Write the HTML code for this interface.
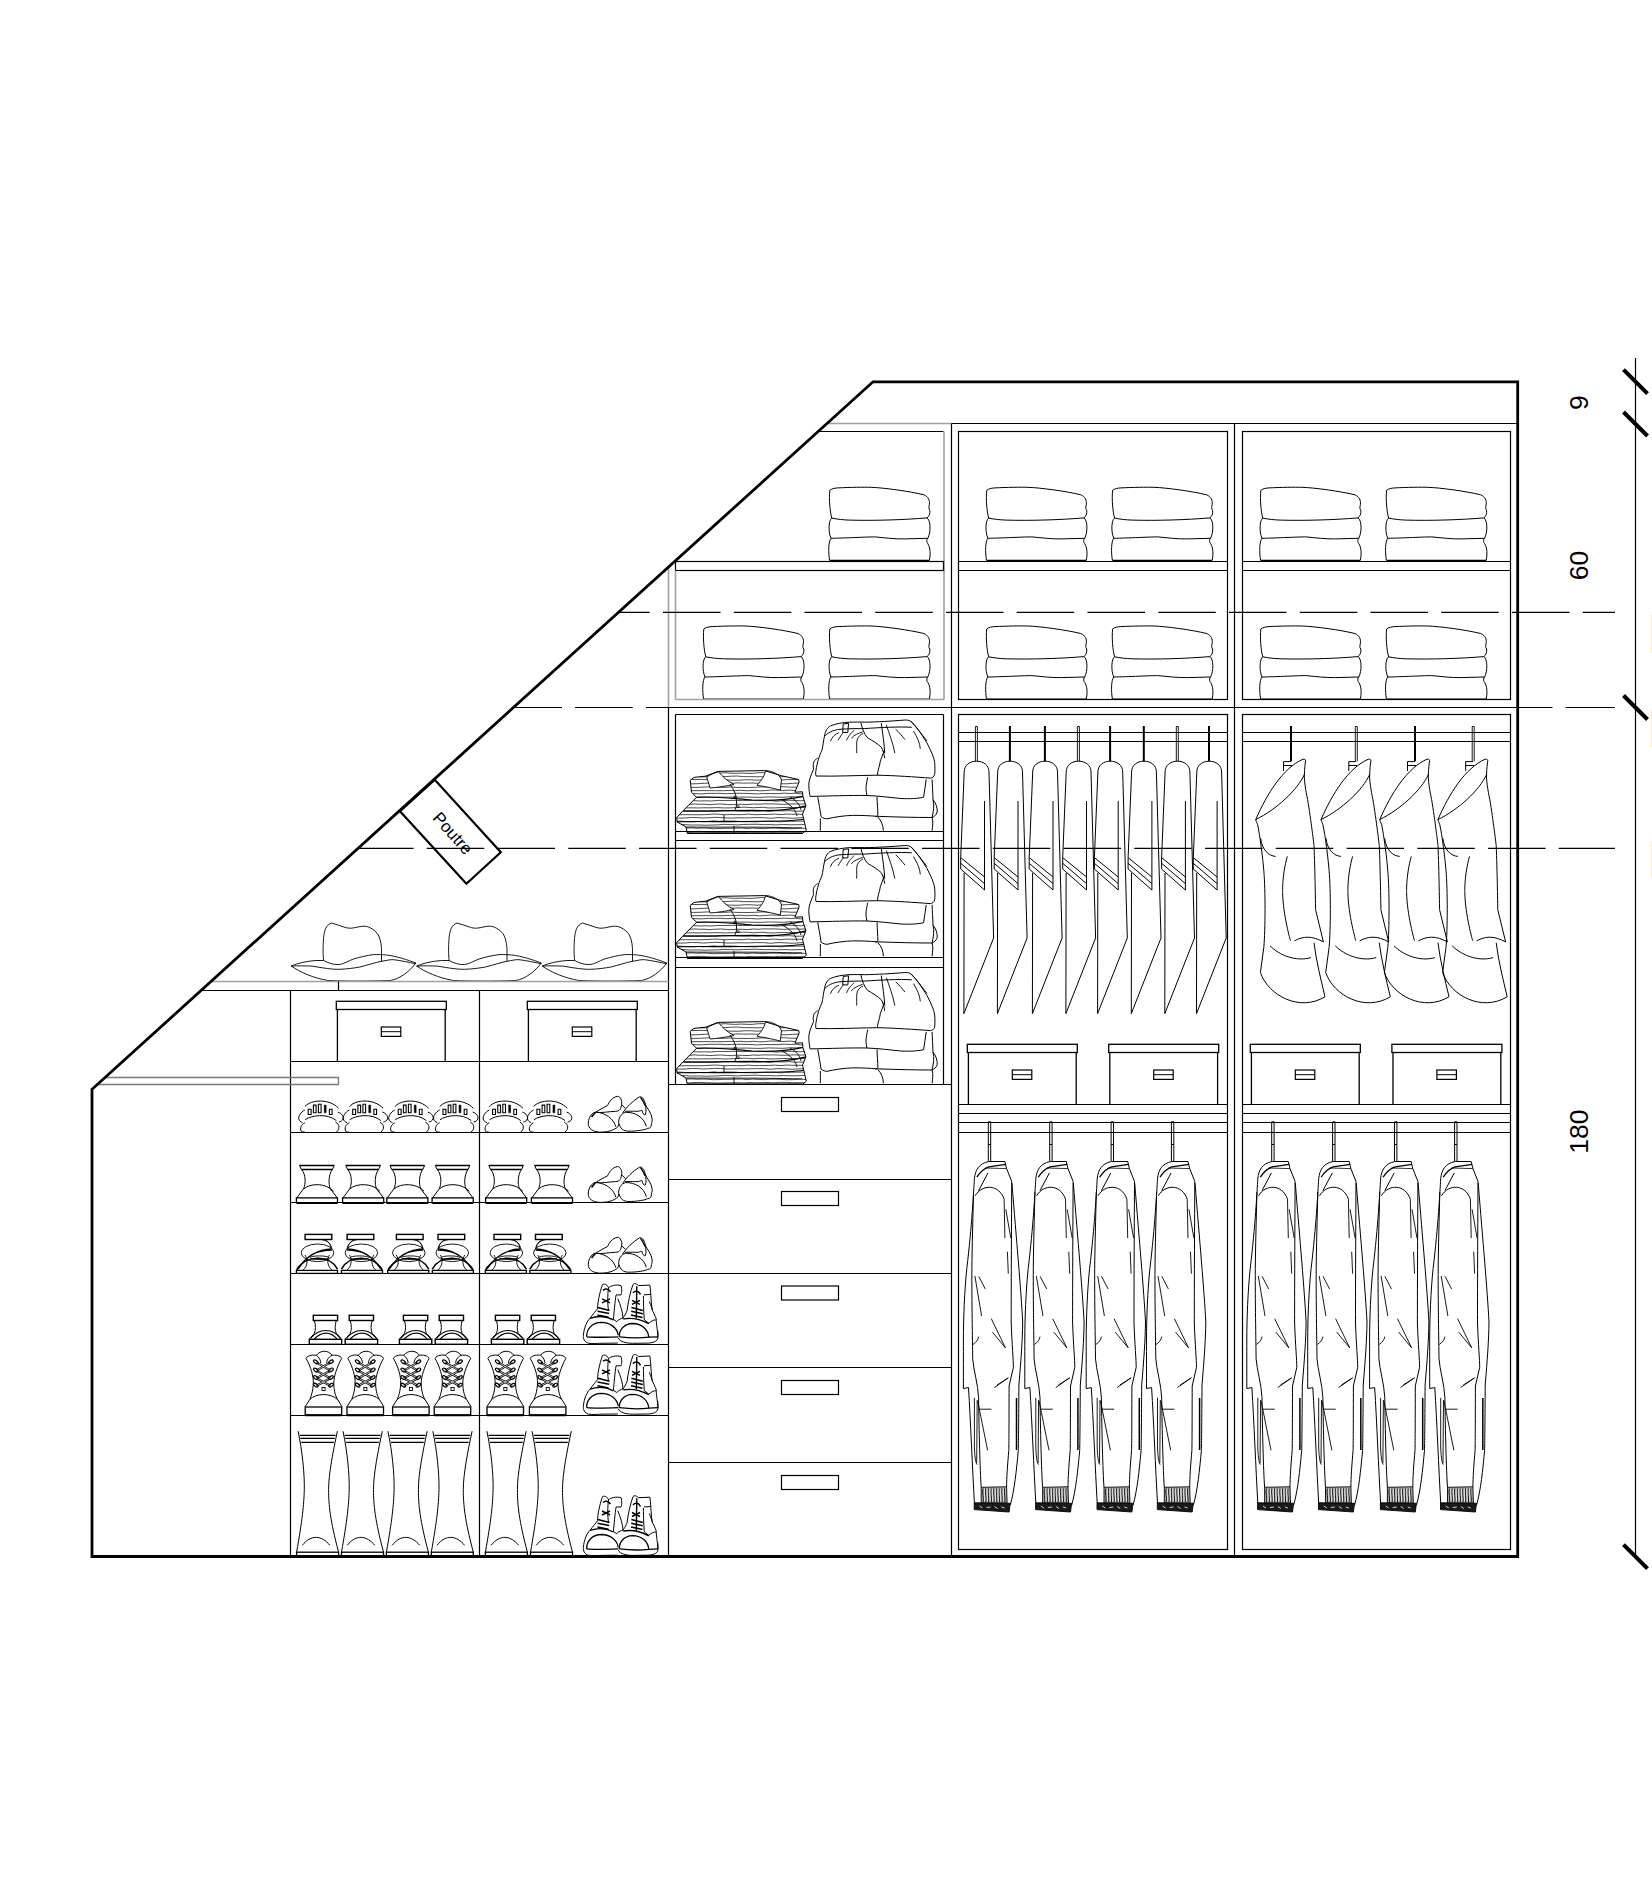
<!DOCTYPE html>
<html><head><meta charset="utf-8"><title>Dressing</title>
<style>html,body{margin:0;padding:0;background:#fff;}svg{display:block;}</style>
</head><body><svg width="1652" height="1881" viewBox="0 0 1652 1881"><defs><g id="towel" fill="none" stroke="#000" stroke-width="1"><path d="M2.4,30.8 C0.5,24 -0.5,12 0.4,3 C3,1 6,0.8 8.7,0.6 C20,0 35,-0.2 41.7,0 C55,0.5 80,4 94.5,7.5 C99,9.5 100.5,13 100,17 C99.5,20 99,21 100.4,23 C100.8,26 100,29 97.6,30.6"/><path d="M2.4,30.8 C8,32 14,32.6 20,32.8 C45,33.5 75,32.5 97.6,30.6"/><path d="M2.4,30.8 C-1,33 -1.2,45 1.6,51 M97.6,30.6 C101.5,33 101.5,45 98.4,51"/><path d="M1.6,51 C15,50.8 40,49.5 45.7,49.6 C55,50.5 65,51.8 75,51.6 L98.4,51"/><path d="M1.6,51 C-1,54 -1.2,65 0.2,73 M98.4,51 C97,52 97.5,54 97.6,55.3 C100,58 101.8,64 100,73"/><path d="M0.2,73.2 L100,73.2" stroke-width="1.6"/></g><g id="box" fill="none" stroke="#000" stroke-width="1"><rect x="0.5" y="0.5" width="110" height="8.2" stroke-width="1.3"/><path d="M1.6,8.7 L1.6,60.2 M109.4,8.7 L109.4,60.2" stroke-width="1.3"/><rect x="45.5" y="26.2" width="19.5" height="9.4" stroke-width="1.2"/><path d="M45.5,30.9 L65,30.9" stroke-width="1"/></g><g id="pants" fill="none" stroke="#000" stroke-width="1"><path d="M-12.2,772 C-12.2,765 -6.5,761.2 0.2,761.2 C6.8,761.2 12.6,765 12.6,772 L17.2,938"/><path d="M17.2,938 L-12.5,1013.6 L-12.3,873"/><path d="M-12.2,772 L-15.7,857.6 L-15.7,869"/><path d="M-15.7,857.6 L8.1,877 M-15.7,863.3 L8.1,883.6 M-15.7,869 L8.1,890 M8.1,801 L8.1,890"/></g><g id="hookS" fill="none" stroke="#000" stroke-width="1"><path d="M0,726 L0,761.2" stroke-width="2"/></g><g id="hookH" fill="none" stroke="#000" stroke-width="1"><path d="M-1,761.2 L-1,726.5 L1,726.5 L1,761.2" stroke-width="0.9"/></g><g id="shirt" fill="none" stroke="#000" stroke-width="1"><path d="M-7.5,771 L-7.5,761.6 L0,761.6 M-7.5,765.5 L1,765.5"/><path d="M12,759.2 C-8,768 -24,793.7 -35.3,819.6 C-34.5,822 -33.5,824.3 -33.5,824.3 C-31,835 -28,860 -27.2,870.6 C-25.5,890 -25.6,930 -27.2,947.4 L-30.6,972.5 C-22.5,996 8.9,1012 34,996.8 C30,980 25,960 23,942.7"/><path d="M-35.3,819.6 C-14.6,809.4 6,790.6 13.6,774.1"/><path d="M12,759.2 C14,758.8 15.2,760 14.4,762 C13.6,768 13.3,773 13.3,778 C14,788 16.7,800 16.7,800 C20,820 23,845.5 23,845.5 C24,870 24.6,909.8 24.6,909.8 L32.4,941.9"/><path d="M3.4,940.8 C8,938.5 12,937.2 16.7,937.2 C22,937.2 27,939 32.4,941.9"/><path d="M-3.7,856.4 C-9,875 -8.4,892.5 -8.4,892.5 C-8,915 -0.5,940.8 -0.5,940.8"/><path d="M-30.3,838.4 C-29,850 -22,856 -15.4,856.4"/><path d="M-21,945.8 C-12,955 5,962 19.9,957.6"/></g><g id="jacket" fill="none" stroke="#000" stroke-width="1"><path d="M-1.2,1161.4 L-1.2,1121.8 L1.2,1121.8 L1.2,1161.4 M-1.2,1144.5 L1.2,1144.5" stroke-width="1"/><path d="M-0.7,1161.5 L15.4,1161.5 L17.1,1168.6 L22.2,1181.4"/><path d="M-12.6,1177.1 C-9.2,1172 -5.8,1168.6 -0.7,1166.9 L16.3,1164.4" stroke-width="1.3"/><path d="M-4,1168 L17.1,1168.6" stroke-width="0.8"/><path d="M-1.5,1172.9 L-10.9,1190.7"/><path d="M-0.7,1161.5 C-10.9,1163.6 -14.3,1170.3 -15.1,1178.8 C-15.9,1192 -17.6,1226 -22.7,1268.6 C-25,1290 -26.1,1320 -26.1,1339 C-26.1,1355 -26.1,1375 -26.1,1388.5 L-21,1387.6 C-19,1420 -17,1470 -15.1,1503"/><path d="M-16,1192 C-16.5,1215 -17.5,1250 -17.6,1268.6 C-17.8,1300 -17,1340 -16.8,1358.8 C-16,1370 -11.5,1384 -10.9,1397.8 C-10.5,1430 -9.5,1470 -8.3,1487.5"/><path d="M-14.3,1195.8 C-7.5,1183.9 9.5,1183.9 14.6,1199.2"/><path d="M22.2,1181.4 C22,1220 21.7,1280 21.7,1323 C22.5,1345 23.9,1360 23.9,1367.3 L19.6,1386 C19.5,1420 19.5,1440 19.3,1450.3 C18,1465 17.1,1478 17.1,1487"/><path d="M22.4,1183 C27,1240 31.5,1290 33.2,1322 C33,1340 31.5,1360 29.4,1385 C29.2,1420 29,1440 28.8,1450.3 C27,1470 25,1490 20.8,1505"/><path d="M14.6,1199.2 L15.4,1238.1 M16.3,1209.3 L21.3,1238.1 M17.9,1251.7 L18.8,1273.7 M-14.6,1276 L-7.9,1316 M-10.8,1276.3 L-4.2,1289 M1.8,1318.7 L15.9,1347.8 M2.9,1332.1 L15.9,1347.8 M-16.5,1344.5 C-13,1342 -11.5,1340 -10.9,1336.6 M4.8,1387.6 L18.8,1377.8 M7.5,1385 L18.8,1377.8 M-10.9,1409.2 L1.9,1409.2 M-11.8,1401 L-1.9,1450.3 M-15.1,1397.8 L-15.1,1448 C-14.5,1460 -13.5,1463 -12.5,1464.6 M-12.3,1400 L-12.8,1463" stroke-width="0.9"/><path d="M27,1398 L27,1450" stroke-width="1.5"/><path d="M-8.3,1487.3 L17.1,1486.8 L17.6,1503 L-8.3,1503 Z" fill="#b0b0b0" stroke-width="0.9"/><path d="M-15.3,1502.8 L20.7,1503.3 L19.6,1512 L-15.3,1509.6 Z" fill="#1a1a1a" stroke-width="0.9"/><path d="M-10,1506 L-7,1508 M-3,1507.5 L1,1507 M5,1506.5 L8,1508.5 M12,1507 L15,1508" stroke="#fff" stroke-width="0.8"/><path d="M-6.5,1488.5 C-7.5,1493 -5.5,1498 -6.3,1502 M-3.8,1488.5 C-4.8,1493 -2.8,1498 -3.6,1502 M-1.1,1488.5 C-2.1,1493 -0.1,1498 -0.9,1502 M1.6,1488.5 C0.6,1493 2.6,1498 1.8,1502 M4.3,1488.5 C3.3,1493 5.3,1498 4.5,1502 M7,1488.5 C6,1493 8,1498 7.2,1502 M9.7,1488.5 C8.7,1493 10.7,1498 9.9,1502 M12.4,1488.5 C11.4,1493 13.4,1498 12.6,1502 M15.1,1488.5 C14.1,1493 16.1,1498 15.3,1502 " stroke="#000" stroke-width="0.9"/><path d="M-5,1489 L-4.8,1501.5 M-2.3,1489 L-2.1,1501.5 M0.4,1489 L0.6,1501.5 M3.1,1489 L3.3,1501.5 M5.8,1489 L6,1501.5 M8.5,1489 L8.7,1501.5 M11.2,1489 L11.4,1501.5 M13.9,1489 L14.1,1501.5 " stroke="#fff" stroke-width="0.7"/></g><g id="hat" fill="none" stroke="#000" stroke-width="0.9"><path d="M35.6,45.5 C35,40 34.8,33 35.6,22.4 C36.5,15 38,10 43.5,8 C48,9 52,11 55.9,12 C59,13 60,13.2 63.1,13.2 C68,12.8 72,11 76.7,11.2 C82,11.5 88,16 90.3,20 C93,25 93.5,32 93.5,35.2 L93.5,46.3"/><path d="M35.6,45.5 C40,48 46,50 51.1,49.5 C56,49 60,46 65.5,44 C72,42 79,40.5 85.5,39.6 C90,39.5 95,39.6 98.3,40 C108,41 120,45 127.8,48"/><path d="M3.2,51.1 C10,48 18,46.3 28,45.5 L35.6,45.5"/><path d="M3.2,51.1 C10,50.5 18,51 24,51.1 C35,53 45,54.5 51.1,54.3 C60,54 66,53 71.9,52 C80,50 87,47.5 93.5,46.3 C98,45.5 103,44.3 105.5,44.7 C113,45.5 121,47.5 127.8,48.7"/><path d="M3.2,51.1 C12,57 25,63 40,65.5 C55,66.2 80,66.4 102.3,65.5 C112,64 122,56 127.8,48"/></g><clipPath id="shclip"><path d="M18.2,20.3 L22,17.4 L33.9,16.1 L45.8,11.4 L92.4,10.6 L109.3,15.7 L126.7,19.5 L127.1,22 L122.9,32.2 L130.5,31.8 L130.9,36.4 L133.9,45.8 L130.5,54.2 L131.8,59.3 L134.3,70.3 L130.5,73.3 L15.3,73.3 L14,67 L5.1,61.9 L4.7,57.6 L11,50.8 L24.6,37.3 L19.5,32.2 Z"/></clipPath><g id="fshirts" fill="none" stroke="#000" stroke-width="1"><path d="M18.2,20.3 L22,17.4 L33.9,16.1 L45.8,11.4 L92.4,10.6 L109.3,15.7 L126.7,19.5 L127.1,22 L122.9,32.2 L130.5,31.8 L130.9,36.4 L133.9,45.8 L130.5,54.2 L131.8,59.3 L134.3,70.3 L130.5,73.3 L15.3,73.3 L14,67 L5.1,61.9 L4.7,57.6 L11,50.8 L24.6,37.3 L19.5,32.2 Z" fill="#fff" stroke="none"/><g clip-path="url(#shclip)"><path d="M0,13 Q5.47,12.37 10.94,13.12 Q15.66,13.06 20.38,12.89 Q25.05,13.01 29.73,12.63 Q35.53,12.23 41.33,12.67 Q47.1,13.59 52.87,12.7 Q58.04,13.23 63.21,13.36 Q69.45,12.81 75.68,13.38 Q80.32,13.65 84.96,12.83 Q89.89,12.31 94.82,12.85 Q101.77,12.43 108.72,13.07 Q115.14,12.77 121.55,13.04 Q126.24,12.21 130.93,12.76 Q137.47,12.87 144.01,12.85 M0,16.49 Q5.86,16.13 11.72,16.73 Q18.32,16.03 24.91,16.55 Q30.99,17.17 37.06,16.68 Q42.43,17.36 47.79,16.19 Q53.55,16.96 59.3,16.21 Q65.27,15.66 71.23,16.63 Q78.03,16.62 84.82,16.79 Q90.26,16.84 95.7,16.57 Q101.94,16.41 108.18,16.76 Q115.52,16.45 122.85,16.62 Q127.53,16.86 132.22,16.61 Q139.7,17.07 147.17,16.32 M0,19.89 Q6.51,19.03 13.01,19.86 Q18.02,19.2 23.02,19.53 Q29.82,19.22 36.63,19.68 Q42.3,20.55 47.98,19.55 Q53.82,19.97 59.67,20.19 Q66.63,20.54 73.59,19.71 Q79.33,19.63 85.08,20.19 Q92.45,19.26 99.82,19.63 Q105.02,19.41 110.22,19.87 Q116.48,19.46 122.75,19.49 Q128.51,19.65 134.26,19.94 Q141.62,20.23 148.98,19.9 M0,23.39 Q6.53,22.59 13.06,23.71 Q19.9,24.07 26.74,23.63 Q32.41,23.21 38.09,23.08 Q44.49,22.61 50.9,23.05 Q56.02,22.79 61.15,23.27 Q65.81,22.49 70.47,23.12 Q75.27,23.15 80.07,23.01 Q87.2,23.6 94.32,23.11 Q99.58,23.12 104.83,23.29 Q109.7,24.02 114.57,23.79 Q120.47,23.37 126.37,23.06 Q131.17,23.11 135.98,23.21 Q142.97,22.79 149.95,23.01 M0,27.07 Q6.08,26.43 12.17,27.1 Q16.75,27.12 21.33,27.45 Q28.42,27.42 35.51,26.88 Q41.11,26.47 46.71,27.29 Q52.81,27.57 58.91,26.93 Q64.08,27.63 69.25,27.46 Q76.3,27.62 83.36,27.32 Q90.08,26.58 96.8,27.08 Q102.37,26.22 107.93,26.69 Q113.27,26.64 118.61,27.22 Q125.98,26.97 133.35,27.42 Q140.81,27.89 148.28,26.96 M0,30.38 Q5.18,29.83 10.36,30.14 Q16.73,31.1 23.11,30.65 Q29.04,30.66 34.98,30.62 Q39.74,30.67 44.49,30.71 Q51.34,30.83 58.18,30.36 Q63.22,30.9 68.26,30.25 Q75.16,31.23 82.06,30.3 Q87.77,31.18 93.47,30.56 Q98.48,29.71 103.49,30.1 Q110.7,30.93 117.92,30.1 Q124.9,31.24 131.88,30.51 Q137.43,30.47 142.98,30.08 M0,33.59 Q7.41,33.86 14.83,33.61 Q22.13,33.47 29.43,33.88 Q36.41,33.07 43.38,33.39 Q48.76,33.12 54.14,33.66 Q59.42,33.44 64.7,33.29 Q71.93,33.32 79.16,33.55 Q85.41,34.32 91.66,33.52 Q98.91,33.59 106.16,33.61 Q112.24,32.72 118.31,33.54 Q123.35,32.69 128.4,33.83 Q133.42,33.54 138.44,33.77 Q144.61,33.27 150.78,33.6 M0,37.07 Q6.85,36.36 13.71,37.11 Q18.95,36.66 24.2,37.28 Q30.22,37.18 36.24,37.27 Q43.48,36.96 50.72,37.16 Q56.73,37.09 62.75,37.22 Q68.61,37.12 74.47,37.05 Q81.79,37.42 89.11,37.37 Q96.44,36.63 103.77,37.11 Q111.1,37.68 118.43,36.77 Q123.29,36.96 128.16,36.72 Q133.38,36.3 138.6,37.2 Q145.45,37.78 152.3,36.79 M0,40.62 Q6.48,39.98 12.96,40.93 Q20.36,40.12 27.77,40.99 Q33.46,40.6 39.16,41.01 Q46.15,40.01 53.15,40.57 Q59.2,40.33 65.24,40.38 Q70.7,41.02 76.16,40.24 Q82.32,40.52 88.48,40.24 Q93.97,40.85 99.47,40.63 Q104.16,41.5 108.85,40.85 Q116.27,39.91 123.69,40.44 Q128.3,41.13 132.92,40.44 Q137.81,40.48 142.7,40.95 M0,44.23 Q5.28,43.6 10.55,44.57 Q16.76,44.59 22.98,43.9 Q27.65,44.57 32.32,44.17 Q37.04,45.02 41.75,44.34 Q48.66,43.48 55.56,44.52 Q60.26,44.89 64.96,44.2 Q70.48,44.33 76,44.57 Q81.3,43.57 86.61,44.25 Q91.82,43.53 97.04,43.96 Q101.69,43.7 106.34,44.08 Q111.75,44.7 117.17,44.06 Q123.17,43.65 129.17,44.11 Q133.72,43.78 138.28,43.84 Q144.98,44.32 151.68,43.98 M0,47.67 Q7.3,46.96 14.61,47.93 Q20.4,47.66 26.2,47.94 Q31.88,47.68 37.56,47.82 Q45.01,47.39 52.45,47.94 Q59.07,47.91 65.69,47.59 Q71.24,46.87 76.78,47.37 Q81.49,48.1 86.2,47.47 Q91.19,46.92 96.18,47.94 Q103.3,47.98 110.41,47.5 Q115.63,47.3 120.86,47.64 Q125.83,47.57 130.81,47.48 Q138.19,48.52 145.58,47.71 M0,50.99 Q7.4,50.65 14.79,50.88 Q19.3,50.78 23.8,50.97 Q29.81,50.45 35.82,51 Q40.33,50.57 44.85,50.66 Q50.55,50.17 56.24,50.61 Q61.66,50.51 67.07,51.06 Q73.16,51.44 79.24,51.12 Q85.89,51.67 92.54,50.9 Q98.02,51.86 103.5,50.71 Q110.17,51.25 116.84,50.63 Q123.85,51.7 130.85,51.09 Q137.56,51.55 144.26,50.7 M0,54.45 Q6.01,55.06 12.03,54.7 Q19.01,54.61 25.98,54.77 Q32.53,54.8 39.08,54.24 Q43.68,53.79 48.27,54.34 Q53.08,55.06 57.9,54.5 Q64.28,54.68 70.67,54.6 Q76.63,53.56 82.6,54.69 Q89.35,54.46 96.09,54.48 Q102.57,53.67 109.05,54.64 Q114.3,53.69 119.56,54.27 Q126.25,53.92 132.94,54.65 Q140.36,54.44 147.79,54.36 M0,57.89 Q6.55,58.37 13.1,57.99 Q19.53,57.13 25.96,57.61 Q31.22,58.33 36.48,57.74 Q42.69,57.02 48.89,57.54 Q54.2,58.2 59.5,58.05 Q66.03,57.52 72.56,57.91 Q78.45,57.83 84.34,57.59 Q91.52,57.35 98.71,58.28 Q106.01,57.03 113.32,57.86 Q120.28,58.74 127.24,57.85 Q132.55,57.37 137.85,58.25 Q142.99,58.04 148.12,57.61 M0,61.36 Q7.36,60.69 14.72,61.61 Q20.74,62.05 26.77,61.52 Q31.96,62.07 37.16,61.34 Q41.73,60.46 46.31,61.35 Q52.16,61 58.01,61.07 Q63.54,61.02 69.07,61.63 Q73.58,61.81 78.08,61.63 Q82.95,62.12 87.81,61.53 Q95.01,60.98 102.21,61.25 Q107.89,62.25 113.57,61.43 Q119.15,61.23 124.74,61.18 Q129.38,60.64 134.03,61.62 Q139.38,62.14 144.74,61.16 M0,64.69 Q6.03,64.13 12.07,64.59 Q19.43,65.38 26.8,64.94 Q33.2,65.43 39.59,65.04 Q45.74,65.08 51.88,64.33 Q58.58,64.6 65.28,64.89 Q71.71,64.3 78.14,64.33 Q85.42,64.02 92.71,64.67 Q98.24,64.32 103.77,64.88 Q111.2,64.26 118.62,64.81 Q124.03,64.79 129.43,64.6 Q134.43,64.08 139.43,64.45 Q146.65,64.68 153.87,64.46 M0,68.34 Q7.49,68.25 14.98,68.05 Q20.06,67.6 25.13,68.22 Q29.91,67.87 34.68,68.15 Q40.89,69.04 47.1,68.54 Q52.84,68.19 58.57,68.36 Q64.2,68.05 69.84,67.99 Q75.17,69.18 80.5,68.04 Q86.51,68.57 92.52,68.63 Q97.67,67.93 102.82,68.14 Q108.52,68.24 114.22,68.7 Q121.26,69.01 128.31,67.96 Q132.9,68.72 137.5,68.66 Q143.42,68.5 149.34,67.94 M0,71.74 Q7.28,72.32 14.56,72.02 Q21.98,71.28 29.39,71.42 Q34.36,71.78 39.32,71.88 Q46.65,72.14 53.97,71.86 Q60.76,71.66 67.56,71.78 Q72.18,72.25 76.8,71.52 Q84.06,72 91.32,71.58 Q96.2,71.29 101.08,71.85 Q107.68,71.04 114.27,71.39 Q120.35,71.89 126.42,71.65 Q131.59,71.92 136.76,71.35 Q142.17,71.67 147.57,72.1" stroke-width="0.75" stroke="#111"/></g><path d="M34.7,16.9 C38,15 43,12.5 46.6,11.8 C50,16 55,21 62,24.5 C55,26 45,27.5 38.1,28 Z" fill="#fff" stroke-width="0.9"/><path d="M93.4,10.5 C100,11 108,14 109.5,20 L108.3,30 C104,29 100,28 95,27 L85,25.3 C90,20 93,15 93.4,10.5 Z" fill="#fff" stroke-width="0.9"/><path d="M18.2,20.3 L22,17.4 L33.9,16.1 L45.8,11.4 L92.4,10.6 L109.3,15.7 L126.7,19.5 L127.1,22 L122.9,32.2 L130.5,31.8 L130.9,36.4 L133.9,45.8 L130.5,54.2 L131.8,59.3 L134.3,70.3 L130.5,73.3 L15.3,73.3 L14,67 L5.1,61.9 L4.7,57.6 L11,50.8 L24.6,37.3 L19.5,32.2 Z" stroke-width="1"/><path d="M24.6,37.3 C40,36 60,38.5 80,40 C100,41 115,40 130.9,36.4" stroke-width="1.2"/><path d="M11,50.8 C30,52 60,50 90,50.5 C105,50.8 118,50 133.9,45.8" stroke-width="1.2"/><path d="M5.1,61.9 C25,61 50,62 70,61.5 C95,61 115,62 131.8,59.3" stroke-width="1.1"/><path d="M14,67 C40,67.5 80,66.5 130,68" stroke-width="0.9"/><path d="M15.3,73.3 L130.5,73.3" stroke-width="1.4"/><path d="M58,24 C62,30 65,36 64.5,42 C65,46 63.5,49 62.5,50.5 M52,55 L52,62 M62,66 L62,73" stroke-width="0.9"/><ellipse cx="66" cy="46.6" rx="1.3" ry="0.9" stroke-width="0.8"/><ellipse cx="63" cy="37" rx="1.3" ry="0.9" stroke-width="0.8"/><path d="M110,40 C118,44 124,50 125,56 M118,37 C124,40 128,45 129,50" stroke-width="0.9"/></g><g id="fpants" fill="none" stroke="#000" stroke-width="1"><path d="M19.5,21.2 C20,16 23,12 25.4,11 C31,8.5 38,7.5 44.1,7.2 C50,7 55,7 59.3,7.2 C72,7 88,6 99.2,5.1 C102,4.8 104,5.2 105.9,6.4 C112,12 117,20 122,28 C126,36 129,42 129.7,47.5 C130,52 130,56 129.7,59.3 C129,62 127,63 125.4,63.1 C110,62 90,60.5 72,60.2 C50,60.5 30,61.5 11,61 C10.5,59 10.6,57 11,55.1 C12,48 14.5,40 16.9,35.6 C18,31 18.5,25 19.5,21.2 Z"/><path d="M19.5,21.2 C25,16 30,15 33.9,14.4 C45,13.5 52,13.6 59.3,13.6 C75,12.5 95,11.5 106.8,12.3"/><path d="M37.7,17.4 L38.2,8.9 L43.6,8.4 L42.8,17.4 Z"/><path d="M55.9,7.6 C57,13 59,19 62.7,22.9 C68,26 73,29 76.3,32.2 C78,35 79,39 79.7,43.2"/><path d="M76.3,8.1 C77.5,18 79.5,30 79.7,38.1"/><path d="M25.4,26.3 C27,22 30,19 33.9,17.8 M33,25.4 C35,22 37,19 38.5,17 M41.5,25.4 C44,20 47,17 49.2,15.3 M46.2,23.3 C49,20 54,18 57.6,16.9 M51.7,38.1 C52,33 51,27 52.5,23.7 C54,21 56,19 58,18.6 M81.4,10.2 C84,18 88,28 89.8,38.1 M90.7,14.4 C94,17 97,21 100,24.6 M108.5,16.1 C112,22 115,28 115.3,33.9 M106,6.2 C111,12 116,18 122,26" stroke-width="0.9"/><path d="M79.7,33.9 C78,40 75,45 74.6,50 C73.5,54 72.5,57 72.5,60.2"/><path d="M12.7,43.2 C9,45 7.6,47.5 8.5,54.2 C6,60 3.5,66 3.8,70.3 C4,75 4.5,79 5.1,81.4 C25,81 45,80.2 61.9,80.5 C75,81 85,82.5 95.8,83.5 C105,84 113,83.5 118.6,82.2 C119.5,76 120.5,70 121.2,64.4"/><path d="M62.7,62.3 C62,66 61,70 61,73.7 C61,76 61.5,78.5 61.9,80.5"/><path d="M12.7,81.8 C14,88 15,95 16.1,101.7 C18,103 20,103.8 22,103.8 C30,102 40,100.5 47.5,100.4 C56,100.2 65,100.8 72,101.3 C90,102 110,102.5 127.1,102.5 C128.5,96 129.5,90 128,84.7 C127.8,78 127.3,70 127.1,64.4"/><path d="M128,84.7 C131,88 132.5,93 132.2,97 C131.5,100 129,101.5 127.1,102.5"/><path d="M72,81.8 C72.2,88 72.8,95 72.9,100 C72.5,101 71,101.8 70,101.5"/><path d="M15.3,103.4 C15.5,108 15.3,112 15.3,115.7 M72.9,102.1 C76.5,106 78,110 78.4,115.7 M127.1,102.5 C128.5,107 127.5,111 127.1,115.7"/></g><g id="sneakerF" fill="none" stroke="#000" stroke-width="1"><path d="M-16.3,-25.8 C-10,-33 8,-34 17.3,-24.2"/><path d="M-16.3,-22.4 C-20.5,-20.5 -23,-16 -22.4,-13.4 C-22,-11.5 -20.5,-10.5 -18.7,-9.7"/><path d="M16.7,-20.3 C21,-19 22.5,-15.5 21.8,-13.4 C21.3,-11.8 19.5,-10.8 17.6,-10.3"/><path d="M-16,-12.7 C-10,-17 6,-19.5 15.2,-11.8"/><path d="M-16.3,-9.7 C-20,-8 -21.5,-4 -20,-1.2 C-19.3,-0.5 -17.5,-0.3 -16.3,-0.3"/><path d="M14.3,-10.3 C18.5,-8 19,-3.5 15.2,-0.4"/><path d="M-13,-23.2 h2.9 v5.3 h-2.9 Z M-7.8,-27.3 h2.7 v7.6 h-2.7 Z M-2.8,-28.2 h2.7 v8.5 h-2.7 Z M8.2,-23.2 h2.7 v5.3 h-2.7 Z" stroke-width="1.1"/><path d="M3.1,-27.3 h1.8 v7.6 h-1.8 Z" fill="#000" stroke-width="0.6"/></g><g id="heelF" fill="none" stroke="#000" stroke-width="1"><path d="M-17.3,-37.3 L17.3,-37.3 M-15.6,-33.3 L15.6,-33.3" stroke-width="1.5"/><path d="M-17.3,-37.3 L-15.6,-33.3 M17.3,-37.3 L15.6,-33.3"/><path d="M-15.3,-33.3 C-11,-28 -11,-19 -13.3,-14 L-20.2,-4.6 M15.3,-33.3 C11.5,-27 11.5,-19 13.3,-14 L20.6,-4.6"/><path d="M-13.3,-13.7 C-6.9,-19.8 9.4,-19.8 16.7,-11.5"/><rect x="-20.5" y="-4.8" width="41.1" height="4.8" stroke-width="1.3"/><path d="M-20.5,0.2 L20.6,0.2" stroke-width="2"/></g><g id="sandal" fill="none" stroke="#000" stroke-width="1"><rect x="-11.8" y="-39" width="26.7" height="5.1" stroke-width="1.4"/><rect x="-20.5" y="-3" width="41.1" height="3" stroke-width="1.3"/><ellipse cx="0.6" cy="-20.6" rx="16.3" ry="8.8" stroke-width="0.9"/><path d="M-20.2,-3.6 C-11.8,-18.1 12.4,-19.4 20.6,-4.2" stroke-width="1.5"/><path d="M-19.8,-3.6 C-8.6,-20.5 3.6,-24.3 14.9,-24.5 M-18.3,-5 C-7.6,-21.5 4,-23 14.9,-23.3" stroke-width="1.1"/><path d="M5.2,-33.6 C11.9,-32.7 14.3,-28.4 14.9,-24.5 M7.6,-33.6 C12,-32 13.5,-29 14.2,-25" stroke-width="0.9"/><path d="M-14.2,-3 C-9,-7 -9,-14 -11.9,-18.4 M15.5,-3 C10,-7 10,-14 12.5,-18.4" stroke-width="0.9"/><ellipse cx="2.5" cy="-15.7" rx="9.4" ry="1.8" stroke-width="0.9"/></g><g id="ankleB" fill="none" stroke="#000" stroke-width="1"><rect x="-12.2" y="-29" width="24.3" height="5.2" stroke-width="1.4"/><rect x="-16.2" y="-5" width="32.4" height="5" stroke-width="1.4"/><path d="M-11.1,-23.5 C-9.7,-18.6 -9.7,-14.8 -11.1,-11 L-16,-5.3 M10.7,-23.5 C9.3,-18.6 9.3,-14.8 10.7,-11 L15.6,-5.3"/><path d="M-14.9,-6.1 C-6.4,-16.4 7.1,-16.4 15.1,-5.9 M-11.3,-5.3 C-3.7,-13.2 5,-13.2 11.6,-5.3" stroke-width="1.1"/></g><g id="laceB" fill="none" stroke="#000" stroke-width="1"><path d="M-17.4,-57 C-15.2,-60.5 -9.7,-60.5 -7.1,-60 C-2.7,-65.4 4.9,-65.4 8.7,-60 C12,-60.5 16.9,-60 18.3,-57"/><path d="M-17.4,-57 C-12.5,-48.5 -9.8,-38.7 -10.1,-32.2 C-10.3,-24 -12.5,-18.6 -13.6,-15.8 L-18.2,-8.8"/><path d="M18.3,-57 C13.6,-48.5 10.4,-38.7 10.4,-32.2 C10.4,-24 12.5,-18.6 14.2,-15.8 L18.5,-8.8"/><rect x="-18.2" y="-8.3" width="36.5" height="8" stroke-width="1.3"/><path d="M-18.2,0 L18.3,0" stroke-width="2"/><path d="M-13.6,-15.8 C-7.1,-22.4 7.1,-22.4 14.2,-15.8"/><path d="M-7.1,-60 C-3.8,-57.8 -2.7,-54.5 -2.7,-52.3 M8.7,-60 C4.4,-57.8 3.3,-54.5 3.3,-52.3"/><path d="M-7,-52.9 L7,-44.7 M7,-52.9 L-7,-44.7 M-7,-44.7 L7,-37.1 M7,-44.7 L-7,-37.1 M-7,-37.1 L7,-29.5 M7,-37.1 L-7,-29.5 " stroke-width="2.2"/><path d="M-7,-52.9 L7,-44.7 M7,-52.9 L-7,-44.7 M-7,-44.7 L7,-37.1 M7,-44.7 L-7,-37.1 M-7,-37.1 L7,-29.5 M7,-37.1 L-7,-29.5 " stroke="#fff" stroke-width="0.7"/><rect x="-1.4" y="-27.8" width="3.1" height="3" stroke-width="0.9"/><ellipse cx="0" cy="0" rx="2.6" ry="1.4" stroke-width="1.2" transform="translate(-7.6,-53.5) rotate(35)"/><ellipse cx="0" cy="0" rx="2.6" ry="1.4" stroke-width="1.2" transform="translate(7.6,-53.5) rotate(-35)"/><ellipse cx="0" cy="0" rx="2.6" ry="1.4" stroke-width="1.2" transform="translate(-7.6,-45.3) rotate(35)"/><ellipse cx="0" cy="0" rx="2.6" ry="1.4" stroke-width="1.2" transform="translate(7.6,-45.3) rotate(-35)"/><ellipse cx="0" cy="0" rx="2.6" ry="1.4" stroke-width="1.2" transform="translate(-7.6,-37.7) rotate(35)"/><ellipse cx="0" cy="0" rx="2.6" ry="1.4" stroke-width="1.2" transform="translate(7.6,-37.7) rotate(-35)"/><ellipse cx="0" cy="0" rx="2.6" ry="1.4" stroke-width="1.2" transform="translate(-7.6,-30.1) rotate(35)"/><ellipse cx="0" cy="0" rx="2.6" ry="1.4" stroke-width="1.2" transform="translate(7.6,-30.1) rotate(-35)"/></g><g id="tallB" fill="none" stroke="#000" stroke-width="1"><rect x="-21" y="-4.3" width="42" height="4.3" stroke-width="1.3"/><path d="M-17.8,-121.1 L18,-121.1 M-17.2,-118.2 L17.2,-118.2 M-16.3,-114.1 L16.3,-114.1" stroke-width="1.2"/><path d="M-19.5,-125.3 C-15.3,-105.7 -13,-82.6 -13.3,-67.1 C-13.7,-51.7 -15.3,-36.3 -21,-4.3"/><path d="M19.8,-125.3 C15.6,-105.7 11,-82.6 11,-67.1 C11,-51.7 12.5,-36.3 21,-4.3"/><path d="M-15.3,-11.2 C-6.4,-22.5 4.3,-21 12.3,-11.2"/></g><g id="flats" fill="none" stroke="#000" stroke-width="1"><path d="M8.2,-8.5 C8.2,-13 10,-17.5 13.6,-19.6 C17,-21 19,-20 21.3,-19.2 C28,-17.5 34,-12.4 35.8,-5.6"/><path d="M8.2,-8.5 C8.7,-4 12,-0.8 19.4,-0.3 C27,0 34,-2 37.8,-5.6 C38.5,-7 38.7,-8 38.7,-9"/><path d="M15.5,-20.1 C20,-23 24,-25 27.6,-26.9 C29,-30 32,-35.5 37.8,-36.1 C40,-36 42.5,-32 41.6,-27.9 C41,-24 40,-21.1 35.4,-21.1 C29,-20.8 22,-19.5 16.5,-19.9"/><path d="M11.6,-15.3 L15.5,-20.1" stroke-width="1.6"/><path d="M38.7,-9 C38.2,-14 41,-19 45.5,-20.1 C55,-20.5 64,-15 66.3,-6.1"/><path d="M39.2,-8.7 C40,-4 43.5,-1.2 48.4,-1.2 C57,-1.2 65,-2.5 67.8,-4.1 C70.5,-4 71.5,-6 71.4,-8.5"/><path d="M42.6,-19.2 C46,-25 53,-31.5 59.6,-35.6 C63,-36 64.5,-32 65.4,-27.9 C67,-24 71.5,-20 72.2,-13.3 C72.3,-11 71.4,-8.5 71.4,-8.5"/><path d="M45,-21.1 C50,-21.3 56,-21 58.1,-21.1 C60,-21.6 61,-22 62,-22.1 C62.5,-19 63.8,-17.2 65.4,-17.7 C66.5,-21 66,-26 64.9,-28.8"/><path d="M41.6,-27.9 L45.5,-24"/><path d="M60.5,-35 C62,-33 64,-30 65,-27" stroke-width="1.4"/></g><g id="sneakP" fill="none" stroke="#000" stroke-width="1"><path d="M5.4,-9.2 C4.9,-6 6.5,-2 10.9,-1.1 C15,-0.6 19,-0.8 21.8,-1.1 L39.8,-1.3"/><path d="M8.7,-7.6 C16,-6.8 30,-7.2 40.3,-7.6" stroke-width="1.3"/><path d="M8.7,-7.6 C8.2,-14.5 13.5,-21.8 23.4,-22 C32.5,-21.8 39,-16.5 40.3,-9.2" stroke-width="1.3"/><path d="M5.4,-9.2 C6,-17 9.2,-23.5 12,-26.1 C15,-30.5 18.5,-34 19.6,-35.9 C19.6,-44.5 23,-55.5 24.5,-59.9 C27,-61 29.5,-59.5 30.5,-56.6 C32.7,-58.7 38,-60.2 43,-58.8 C44.2,-55.5 43.6,-50 43,-49.5 L38.1,-49.5 C37,-43.5 36,-31 35.4,-25 L38.7,-22.8 C40.8,-25 43.6,-26 44.7,-26.6"/><path d="M12,-26.1 C21.8,-29.5 30,-27.3 35.4,-24.5" stroke-width="1.3"/><path d="M30.5,-56.6 C29.5,-50 29.5,-39 30.5,-34.5"/><path d="M39.8,-45.7 C42.5,-39 44.6,-33.5 45.2,-25"/><path d="M19.8,-37 L31.5,-34 M19.6,-33.2 L31.2,-31 M19.4,-29.5 L30.5,-27.2 M25,-54 C27,-56 30,-56 32.5,-52.5 M24,-45.5 L32,-41.5 M32,-45.5 L24,-41.5" stroke-width="1.5"/><path d="M40.3,-6.5 C41.5,-2.5 49,-1.1 54.5,-1.1 L70.8,-1.3 C77.5,-2.1 80,-4 80,-7.6 C80,-10 79.8,-13 79.8,-14"/><path d="M41.4,-7.6 C50,-6.5 65,-6.5 71,-7.2 L80,-7.6" stroke-width="1.3"/><path d="M41.4,-7.6 C40.8,-14.5 46.3,-20.7 54.5,-20.9 C64.3,-20.7 70.3,-14.5 70.8,-7" stroke-width="1.3"/><path d="M80,-7.6 C79.5,-14.8 77.8,-23 78.4,-25 C77,-29 75,-33 74,-34.8 C73,-44.5 72.5,-55.5 71.9,-59.3 L60.5,-58.8 C58.8,-60.5 56.6,-61.6 55,-59.9 C52.3,-52.8 50.1,-41.9 49,-33.7 C46.8,-28.2 45.2,-27.1 44.7,-26"/><path d="M65.9,-49.5 L72.5,-50 M65.4,-48.5 C65.4,-39.2 65.9,-28.2 66.4,-24.5 L70.8,-21.2 C73,-22.8 75.2,-25 78.4,-24.5"/><path d="M45.7,-25.5 C54.5,-27.1 62.6,-25 70.8,-20.7" stroke-width="1.3"/><path d="M58.8,-58.2 L58.3,-26.1" stroke-width="1.4"/><path d="M71.3,-43 C73,-38.5 74,-36 74.5,-34.5"/><path d="M53.4,-37 L64.8,-34 M53.2,-33.2 L64.8,-30.7 M53,-29.5 L64.5,-27 M55,-51.5 C57,-54 60.5,-54 62.5,-50 M54,-44 L62,-40 M62,-44 L54,-40" stroke-width="1.5"/></g></defs><rect width="100%" height="100%" fill="#fff"/><use href="#towel" transform="translate(829.4,487.3)"/><use href="#towel" transform="translate(986.3,487.3)"/><use href="#towel" transform="translate(1112.2,487.3)"/><use href="#towel" transform="translate(1260.4,487.3)"/><use href="#towel" transform="translate(1386.2,487.3)"/><use href="#towel" transform="translate(703.4,626)"/><use href="#towel" transform="translate(829.4,626)"/><use href="#towel" transform="translate(986.3,626)"/><use href="#towel" transform="translate(1112.2,626)"/><use href="#towel" transform="translate(1260.4,626)"/><use href="#towel" transform="translate(1386.2,626)"/><use href="#box" transform="translate(966.8,1043.8)"/><use href="#box" transform="translate(1108.2,1043.8)"/><use href="#box" transform="translate(1249.8,1043.8)"/><use href="#box" transform="translate(1391.4,1043.8)"/><use href="#box" transform="translate(335.8,1000.8)"/><use href="#box" transform="translate(526.8,1000.8)"/><use href="#hookH" transform="translate(976.4,0)"/><use href="#pants" transform="translate(976.4,0)"/><use href="#hookS" transform="translate(1009.9,0)"/><use href="#pants" transform="translate(1009.9,0)"/><use href="#hookS" transform="translate(1044.9,0)"/><use href="#pants" transform="translate(1044.9,0)"/><use href="#hookH" transform="translate(1078.4,0)"/><use href="#pants" transform="translate(1078.4,0)"/><use href="#hookS" transform="translate(1110.1,0)"/><use href="#pants" transform="translate(1110.1,0)"/><use href="#hookS" transform="translate(1143.8,0)"/><use href="#pants" transform="translate(1143.8,0)"/><use href="#hookH" transform="translate(1177.3,0)"/><use href="#pants" transform="translate(1177.3,0)"/><use href="#hookS" transform="translate(1209,0)"/><use href="#pants" transform="translate(1209,0)"/><use href="#hookS" transform="translate(1291,0)"/><use href="#shirt" transform="translate(1291,0)"/><use href="#hookH" transform="translate(1356.3,0)"/><use href="#shirt" transform="translate(1356.3,0)"/><use href="#hookS" transform="translate(1415,0)"/><use href="#shirt" transform="translate(1415,0)"/><use href="#hookH" transform="translate(1473.2,0)"/><use href="#shirt" transform="translate(1473.2,0)"/><use href="#jacket" transform="translate(989.5,0)"/><use href="#jacket" transform="translate(1050.9,0)"/><use href="#jacket" transform="translate(1112.3,0)"/><use href="#jacket" transform="translate(1172.6,0)"/><use href="#jacket" transform="translate(1272.9,0)"/><use href="#jacket" transform="translate(1333.8,0)"/><use href="#jacket" transform="translate(1395.7,0)"/><use href="#jacket" transform="translate(1455.8,0)"/><use href="#hat" transform="translate(288,915)"/><use href="#hat" transform="translate(413.5,915)"/><use href="#hat" transform="translate(539,915)"/><use href="#fshirts" transform="translate(672,760)"/><use href="#fshirts" transform="translate(672,885)"/><use href="#fshirts" transform="translate(672,1011)"/><use href="#fpants" transform="translate(805,715)"/><use href="#fpants" transform="translate(805,840.5)"/><use href="#fpants" transform="translate(805,967.5)"/><use href="#sneakerF" transform="translate(321.2,1132.4)"/><use href="#sneakerF" transform="translate(365.7,1132.4)"/><use href="#sneakerF" transform="translate(411.2,1132.4)"/><use href="#sneakerF" transform="translate(456,1132.4)"/><use href="#sneakerF" transform="translate(505.6,1132.4)"/><use href="#sneakerF" transform="translate(549.9,1132.4)"/><use href="#heelF" transform="translate(316.9,1202.7)"/><use href="#heelF" transform="translate(363.1,1202.7)"/><use href="#heelF" transform="translate(407.3,1202.7)"/><use href="#heelF" transform="translate(452.6,1202.7)"/><use href="#heelF" transform="translate(506.1,1202.7)"/><use href="#heelF" transform="translate(551.9,1202.7)"/><use href="#sandal" transform="translate(316.9,1273.4)"/><use href="#sandal" transform="translate(362,1273.4) scale(-1,1)"/><use href="#sandal" transform="translate(408.2,1273.4)"/><use href="#sandal" transform="translate(452.9,1273.4) scale(-1,1)"/><use href="#sandal" transform="translate(505.8,1273.4)"/><use href="#sandal" transform="translate(550.4,1273.4) scale(-1,1)"/><use href="#ankleB" transform="translate(325.5,1344.3)"/><use href="#ankleB" transform="translate(361.4,1344.3)"/><use href="#ankleB" transform="translate(415.6,1344.3)"/><use href="#ankleB" transform="translate(451.4,1344.3)"/><use href="#ankleB" transform="translate(507.6,1344.3)"/><use href="#ankleB" transform="translate(543.4,1344.3)"/><use href="#laceB" transform="translate(323.4,1415.3)"/><use href="#laceB" transform="translate(365.2,1415.3)"/><use href="#laceB" transform="translate(410.8,1415.3)"/><use href="#laceB" transform="translate(452.4,1415.3)"/><use href="#laceB" transform="translate(505.2,1415.3)"/><use href="#laceB" transform="translate(547.6,1415.3)"/><use href="#tallB" transform="translate(317.6,1556.5)"/><use href="#tallB" transform="translate(362.5,1556.5)"/><use href="#tallB" transform="translate(407.4,1556.5)"/><use href="#tallB" transform="translate(452.3,1556.5)"/><use href="#tallB" transform="translate(506.4,1556.5)"/><use href="#tallB" transform="translate(551.5,1556.5)"/><use href="#flats" transform="translate(580,1132.4)"/><use href="#flats" transform="translate(580,1202.7)"/><use href="#flats" transform="translate(580,1273.4)"/><use href="#sneakP" transform="translate(578,1344.4)"/><use href="#sneakP" transform="translate(578,1415.3)"/><use href="#sneakP" transform="translate(578,1556.5)"/><line x1="826.97" y1="423.5" x2="951.5" y2="423.5" stroke="#a0a0a0" stroke-width="1.6"/><line x1="951.5" y1="423.5" x2="1517" y2="423.5" stroke="#000" stroke-width="1.2"/><line x1="951.5" y1="423.5" x2="951.5" y2="1556" stroke="#000" stroke-width="1.2"/><line x1="1234.5" y1="423.5" x2="1234.5" y2="1556" stroke="#000" stroke-width="1.2"/><line x1="668.5" y1="707.5" x2="1517" y2="707.5" stroke="#000" stroke-width="1.2"/><line x1="818.14" y1="431.5" x2="943.5" y2="431.5" stroke="#000" stroke-width="1.2"/><line x1="944" y1="431.5" x2="944" y2="699.5" stroke="#a0a0a0" stroke-width="1.6"/><rect x="675.5" y="561.5" width="268" height="9" stroke="#000" stroke-width="1.2" fill="none"/><line x1="674.63" y1="561.5" x2="675.5" y2="561.5" stroke="#000" stroke-width="1.2"/><line x1="668.5" y1="567.05" x2="668.5" y2="707.5" stroke="#a0a0a0" stroke-width="1.6"/><line x1="675.5" y1="570.5" x2="675.5" y2="699.5" stroke="#a0a0a0" stroke-width="1.6"/><line x1="675.5" y1="699.5" x2="944" y2="699.5" stroke="#a0a0a0" stroke-width="1.6"/><line x1="668.5" y1="707.5" x2="668.5" y2="1556" stroke="#000" stroke-width="1.2"/><line x1="675.5" y1="714.5" x2="943.5" y2="714.5" stroke="#000" stroke-width="1.2"/><line x1="675.5" y1="714.5" x2="675.5" y2="1084.5" stroke="#000" stroke-width="1.2"/><line x1="943.5" y1="714.5" x2="943.5" y2="1084.5" stroke="#000" stroke-width="1.2"/><line x1="675.5" y1="831.5" x2="943.5" y2="831.5" stroke="#000" stroke-width="1.2"/><line x1="675.5" y1="840.5" x2="943.5" y2="840.5" stroke="#000" stroke-width="1.2"/><line x1="675.5" y1="957.5" x2="943.5" y2="957.5" stroke="#000" stroke-width="1.2"/><line x1="675.5" y1="967.5" x2="943.5" y2="967.5" stroke="#000" stroke-width="1.2"/><line x1="668.5" y1="1084.5" x2="951.5" y2="1084.5" stroke="#000" stroke-width="1.2"/><line x1="668.5" y1="1179.5" x2="951.5" y2="1179.5" stroke="#000" stroke-width="1.2"/><line x1="668.5" y1="1273.5" x2="951.5" y2="1273.5" stroke="#000" stroke-width="1.2"/><line x1="668.5" y1="1367.5" x2="951.5" y2="1367.5" stroke="#000" stroke-width="1.2"/><line x1="668.5" y1="1462.5" x2="951.5" y2="1462.5" stroke="#000" stroke-width="1.2"/><rect x="781.5" y="1097.5" width="57" height="14" stroke="#000" stroke-width="1.2" fill="none"/><rect x="781.5" y="1191.5" width="57" height="14" stroke="#000" stroke-width="1.2" fill="none"/><rect x="781.5" y="1286" width="57" height="14" stroke="#000" stroke-width="1.2" fill="none"/><rect x="781.5" y="1380.5" width="57" height="14" stroke="#000" stroke-width="1.2" fill="none"/><rect x="781.5" y="1475.5" width="57" height="14" stroke="#000" stroke-width="1.2" fill="none"/><rect x="958.5" y="431.5" width="269" height="268" stroke="#000" stroke-width="1.2" fill="none"/><line x1="958.5" y1="561.5" x2="1227.5" y2="561.5" stroke="#000" stroke-width="1.2"/><line x1="958.5" y1="570.5" x2="1227.5" y2="570.5" stroke="#000" stroke-width="1.2"/><rect x="958.5" y="714.5" width="269" height="835" stroke="#000" stroke-width="1.2" fill="none"/><line x1="958.5" y1="732.5" x2="1227.5" y2="732.5" stroke="#000" stroke-width="1.2"/><line x1="958.5" y1="741.5" x2="1227.5" y2="741.5" stroke="#000" stroke-width="1.2"/><line x1="958.5" y1="1104.5" x2="1227.5" y2="1104.5" stroke="#000" stroke-width="1.2"/><line x1="958.5" y1="1113.5" x2="1227.5" y2="1113.5" stroke="#000" stroke-width="1.2"/><line x1="958.5" y1="1122.5" x2="1227.5" y2="1122.5" stroke="#000" stroke-width="1.2"/><line x1="958.5" y1="1132.5" x2="1227.5" y2="1132.5" stroke="#000" stroke-width="1.2"/><rect x="1242.5" y="431.5" width="268" height="268" stroke="#000" stroke-width="1.2" fill="none"/><line x1="1242.5" y1="561.5" x2="1510.5" y2="561.5" stroke="#000" stroke-width="1.2"/><line x1="1242.5" y1="570.5" x2="1510.5" y2="570.5" stroke="#000" stroke-width="1.2"/><rect x="1242.5" y="714.5" width="268" height="835" stroke="#000" stroke-width="1.2" fill="none"/><line x1="1242.5" y1="732.5" x2="1510.5" y2="732.5" stroke="#000" stroke-width="1.2"/><line x1="1242.5" y1="741.5" x2="1510.5" y2="741.5" stroke="#000" stroke-width="1.2"/><line x1="1242.5" y1="1104.5" x2="1510.5" y2="1104.5" stroke="#000" stroke-width="1.2"/><line x1="1242.5" y1="1113.5" x2="1510.5" y2="1113.5" stroke="#000" stroke-width="1.2"/><line x1="1242.5" y1="1122.5" x2="1510.5" y2="1122.5" stroke="#000" stroke-width="1.2"/><line x1="1242.5" y1="1132.5" x2="1510.5" y2="1132.5" stroke="#000" stroke-width="1.2"/><line x1="201.06" y1="990.5" x2="668.5" y2="990.5" stroke="#000" stroke-width="1.2"/><line x1="211" y1="981.5" x2="668.5" y2="981.5" stroke="#a0a0a0" stroke-width="1.6"/><line x1="338.5" y1="981.5" x2="338.5" y2="990.5" stroke="#000" stroke-width="1.2"/><line x1="290.5" y1="990.5" x2="290.5" y2="1556" stroke="#000" stroke-width="1.2"/><line x1="479.5" y1="990.5" x2="479.5" y2="1556" stroke="#000" stroke-width="1.2"/><line x1="290.5" y1="1061.5" x2="668.5" y2="1061.5" stroke="#000" stroke-width="1.2"/><line x1="290.5" y1="1132.5" x2="668.5" y2="1132.5" stroke="#000" stroke-width="1.2"/><line x1="290.5" y1="1202.5" x2="668.5" y2="1202.5" stroke="#000" stroke-width="1.2"/><line x1="290.5" y1="1273.5" x2="668.5" y2="1273.5" stroke="#000" stroke-width="1.2"/><line x1="290.5" y1="1344.5" x2="668.5" y2="1344.5" stroke="#000" stroke-width="1.2"/><line x1="290.5" y1="1415.5" x2="668.5" y2="1415.5" stroke="#000" stroke-width="1.2"/><path d="M105.03,1077.5 L338.5,1077.5 L338.5,1084.5 L97.3,1084.5" stroke="#7a7a7a" stroke-width="1.3" fill="none"/><path d="M400,811.2 L434.8,779.7 L500.8,852.3 L466.4,883.8 Z" stroke="#000" stroke-width="2.2" fill="none"/><text x="0" y="0" transform="translate(452.5,833.5) rotate(48)" font-family="Liberation Sans, sans-serif" font-size="17" text-anchor="middle" dominant-baseline="central" fill="#000">Poutre</text><line x1="618.44" y1="612.4" x2="1615" y2="612.4" stroke="#000" stroke-width="1.2" stroke-dasharray="57.5 13.25" stroke-dashoffset="26.19"/><line x1="513.46" y1="707.5" x2="1615" y2="707.5" stroke="#000" stroke-width="1.2" stroke-dasharray="57.5 13.25" stroke-dashoffset="9.01"/><line x1="358.04" y1="848.3" x2="1615" y2="848.3" stroke="#000" stroke-width="1.2" stroke-dasharray="57.5 13.25" stroke-dashoffset="1.99"/><path d="M92,1089.3 L92,1556.5 L1517.7,1556.5 L1517.7,381.8 L873,381.8 Z" stroke="#000" stroke-width="2.8" fill="none" stroke-linejoin="miter"/><line x1="1651.5" y1="614.7" x2="1651.5" y2="652.6" stroke="#f6eec0" stroke-width="1"/><line x1="1651.5" y1="710.3" x2="1651.5" y2="747.3" stroke="#f6eec0" stroke-width="1"/><line x1="1651.5" y1="841.2" x2="1651.5" y2="878.3" stroke="#f6eec0" stroke-width="1"/><line x1="1635.5" y1="358" x2="1635.5" y2="1554" stroke="#000" stroke-width="1.2"/><line x1="1623.5" y1="369.6" x2="1647.5" y2="393.6" stroke="#000" stroke-width="4"/><line x1="1623.5" y1="412" x2="1647.5" y2="436" stroke="#000" stroke-width="4"/><line x1="1623.5" y1="695.5" x2="1647.5" y2="719.5" stroke="#000" stroke-width="4"/><line x1="1623.5" y1="1544.7" x2="1647.5" y2="1568.7" stroke="#000" stroke-width="4"/><text transform="translate(1587.5,402.6) rotate(-90)" font-family="Liberation Sans, sans-serif" font-size="26.5" text-anchor="middle" fill="#000">9</text><text transform="translate(1587.5,565.5) rotate(-90)" font-family="Liberation Sans, sans-serif" font-size="26.5" text-anchor="middle" fill="#000">60</text><text transform="translate(1587.5,1131.6) rotate(-90)" font-family="Liberation Sans, sans-serif" font-size="26.5" text-anchor="middle" fill="#000">180</text></svg></body></html>
